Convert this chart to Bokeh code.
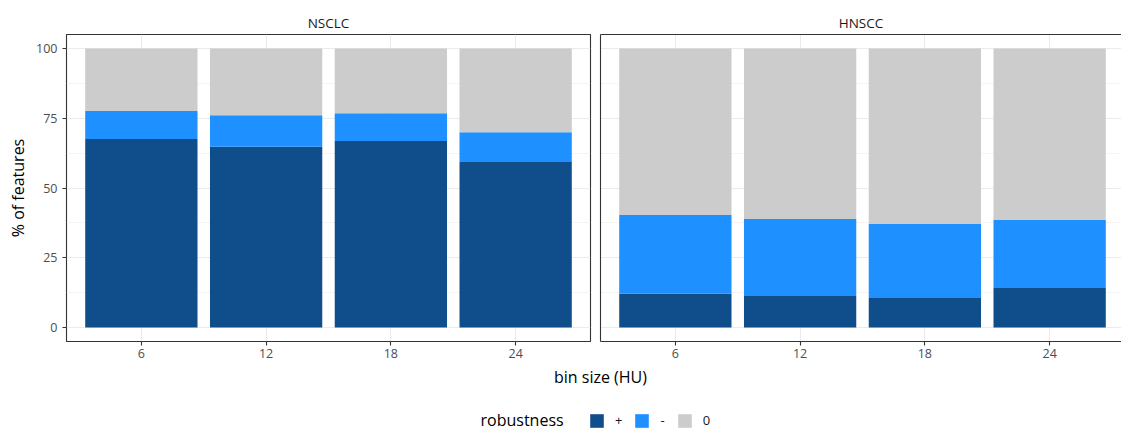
from bokeh.plotting import figure
from bokeh.models import (Range1d, FixedTicker, LinearAxis, Legend, LegendItem,
                          Label, ColumnDataSource)
from bokeh.layouts import column, row
from bokeh.embed import file_html
from bokeh.resources import INLINE

# ---------------- data ----------------
bins = ["6", "12", "18", "24"]
groups = ["+", "-", "0"]
group_colors = ["#104E8B", "#1E90FF", "#CCCCCC"]
panels = ["NSCLC", "HNSCC"]

nsclc_pos = [67.6, 64.8, 66.8, 59.3]
nsclc_neg = [10.0, 11.3, 10.0, 10.7]
nsclc_zero = [22.4, 23.9, 23.2, 30.0]

hnscc_pos = [12.1, 11.3, 10.6, 14.2]
hnscc_neg = [28.2, 27.6, 26.5, 24.3]
hnscc_zero = [59.7, 61.1, 62.9, 61.5]

y_ticks = [0, 25, 50, 75, 100]
y_minor = [12.5, 37.5, 62.5, 87.5]

# ---------------- style ----------------
FONT = "Open Sans"
BORDER = "#333333"
GRID = "#EBEBEB"
TICKTXT = "#4D4D4D"
PX_PER_CAT = 524 / 4.2
FIG_H = 364
x_pos = [i + 1 for i in range(len(bins))]
overrides = {x: b for x, b in zip(x_pos, bins)}


def style_grid(p):
    p.xgrid.ticker = FixedTicker(ticks=x_pos)
    p.xgrid.grid_line_color = GRID
    p.xgrid.grid_line_width = 1.1
    p.ygrid.ticker = FixedTicker(ticks=y_ticks, minor_ticks=y_minor)
    p.ygrid.grid_line_color = GRID
    p.ygrid.grid_line_width = 1.1
    p.ygrid.minor_grid_line_color = GRID
    p.ygrid.minor_grid_line_width = 0.55


def style_xaxis(ax):
    ax.ticker = FixedTicker(ticks=x_pos)
    ax.major_label_overrides = overrides
    ax.axis_line_color = None
    ax.major_tick_line_color = BORDER
    ax.major_tick_line_width = 1.1
    ax.major_tick_out = 4
    ax.major_tick_in = 0
    ax.minor_tick_line_color = None
    ax.major_label_standoff = 3
    ax.major_label_text_font = FONT
    ax.major_label_text_font_size = "12.5px"
    ax.major_label_text_color = TICKTXT


def line_only_axis(ax):
    ax.ticker = FixedTicker(ticks=[])
    ax.axis_line_color = BORDER
    ax.axis_line_width = 1.1
    ax.major_tick_line_color = None
    ax.minor_tick_line_color = None


def make_panel(name, pos, neg, zero, width, x_end, left_border, right_border, first):
    p = figure(width=width, height=FIG_H, x_range=Range1d(0.4, x_end),
               y_range=Range1d(-5, 105), output_backend="svg",
               toolbar_location=None, min_border_left=left_border,
               min_border_right=right_border, min_border_top=34,
               min_border_bottom=FIG_H - 341, title=name)
    p.title.align = "center"
    p.title.text_font = FONT
    p.title.text_font_size = "13.5px"
    p.title.text_font_style = "normal"
    p.title.text_color = "#1A1A1A"
    p.title.standoff = 6
    p.background_fill_color = "white"
    p.border_fill_color = "white"
    style_grid(p)

    src = ColumnDataSource(dict(x=x_pos, pos=pos, neg=neg, zero=zero))
    p.vbar_stack(["pos", "neg", "zero"], x="x", width=0.9, source=src,
                 color=group_colors, line_color=None)

    style_xaxis(p.xaxis[0])
    ya = p.yaxis[0]
    if first:
        ya.ticker = FixedTicker(ticks=y_ticks, minor_ticks=y_minor)
        ya.axis_line_color = None
        ya.major_tick_line_color = BORDER
        ya.major_tick_line_width = 1.1
        ya.major_tick_out = 4
        ya.major_tick_in = 0
        ya.minor_tick_line_color = None
        ya.major_label_standoff = 5
        ya.major_label_text_font = FONT
        ya.major_label_text_font_size = "12.5px"
        ya.major_label_text_color = TICKTXT
        ya.axis_label = "% of features"
        ya.axis_label_text_font = FONT
        ya.axis_label_text_font_size = "16px"
        ya.axis_label_text_font_style = "normal"
        ya.axis_label_text_color = "black"
        ya.axis_label_standoff = 4
        p.outline_line_color = BORDER
        p.outline_line_width = 1.1
    else:
        line_only_axis(ya)
        p.xaxis[0].axis_line_color = BORDER
        p.xaxis[0].axis_line_width = 1.1
        top = LinearAxis()
        line_only_axis(top)
        p.add_layout(top, "above")
        p.outline_line_color = None
        p.title.offset = 2
    return p


left = make_panel(panels[0], nsclc_pos, nsclc_neg, nsclc_zero, 595,
                  4.6, 66, 5, True)
right_w = 1121 - 595
right_end = 0.4 + (right_w - 5) / PX_PER_CAT
right = make_panel(panels[1], hnscc_pos, hnscc_neg, hnscc_zero, right_w,
                   right_end, 5, 0, False)

# ---------------- bottom: x title + legend ----------------
BH = 430 - FIG_H
bottom = figure(width=1121, height=BH, x_range=Range1d(0, 1121),
                y_range=Range1d(0, BH), output_backend="svg",
                toolbar_location=None, min_border=0,
                x_axis_type=None, y_axis_type=None)
bottom.grid.visible = False
bottom.outline_line_color = None

# positions given as page y (from top) converted to this figure's data units
bottom.add_layout(Label(x=600, y=430 - 376, text="bin size (HU)",
                        text_align="center", text_baseline="middle",
                        text_font=FONT, text_font_size="16px",
                        text_color="black"))
bottom.add_layout(Label(x=480, y=430 - 419.5, text="robustness",
                        text_align="left", text_baseline="middle",
                        text_font=FONT, text_font_size="16px",
                        text_color="black"))

nan = float("nan")
items = []
for g, c in zip(groups, group_colors):
    r = bottom.vbar(x=[nan], top=[nan], width=1, fill_color=c, line_color=None)
    items.append(LegendItem(label=g, renderers=[r]))
leg = Legend(items=items, orientation="horizontal", location=(588, 1),
             glyph_width=17, glyph_height=17, label_standoff=10,
             spacing=11, padding=0, margin=0, label_width=0, label_height=17,
             border_line_color=None, background_fill_alpha=0,
             label_text_font=FONT, label_text_font_size="13px",
             label_text_color="#1A1A1A")
bottom.add_layout(leg)

layout = column(row(left, right), bottom)
open("out.html", "w").write(file_html(layout, INLINE))
